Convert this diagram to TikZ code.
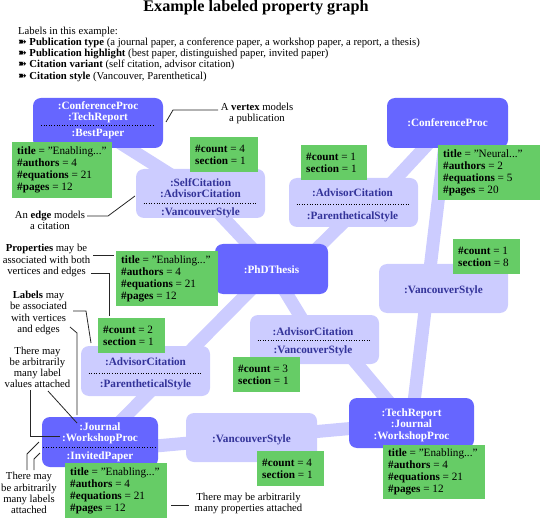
\documentclass[tikz,border=0pt]{standalone}
\usepackage{fontspec}
\setmainfont{Liberation Serif}
\newfontfamily\symfont{DejaVu Sans}
\usetikzlibrary{calc}
\definecolor{vcol}{HTML}{6666FF}
\definecolor{lav}{HTML}{CCCCFF}
\definecolor{ecol}{HTML}{333399}
\definecolor{pgreen}{HTML}{66CC66}
\pgfdeclarelayer{background}
\pgfsetlayers{background,main}
\newcommand\mynodefont{\fontsize{11.2}{12}\selectfont}
\newcommand\myannfont{\fontsize{10.7}{11.2}\selectfont}
\newcommand\mybul{{\symfont\fontsize{10.5}{10}\selectfont ➽}\hspace{2.5pt}}
\begin{document}
\begin{tikzpicture}[x=1pt,y=-1pt,
  conn/.style={line width=13pt,draw=lav,line join=round},
  vtx/.style={rectangle,rounded corners=8pt,fill=vcol,inner sep=0pt},
  edg/.style={rectangle,rounded corners=8pt,fill=lav,inner sep=0pt},
  pbox/.style={rectangle,fill=pgreen,inner sep=0pt,anchor=north west},
  ptext/.style={inner sep=0pt,align=left,anchor=west,font=\mynodefont},
  vt/.style={inner sep=0pt,anchor=base,text=white,font=\mynodefont\bfseries},
  et/.style={inner sep=0pt,anchor=base,text=ecol,font=\mynodefont\bfseries},
  sepline/.style={draw=black,dotted,line width=0.6pt},
  ann/.style={inner sep=0pt,align=center,font=\myannfont},
  leg/.style={inner sep=0pt,anchor=base west,font=\myannfont},
  lead/.style={draw=black!85,line width=0.8pt}]
\useasboundingbox (0,0) rectangle (540,518);

% title and legend
\node[inner sep=0pt,anchor=base,font=\fontsize{16.2}{18}\selectfont\bfseries] (title) at (256,12) {Example labeled property graph};
\node[leg] (leg0) at (18,35) {Labels in this example:};
\node[leg] (leg1) at (18,46) {\mybul\textbf{Publication type} (a journal paper, a conference paper, a workshop paper, a report, a thesis)};
\node[leg] (leg2) at (18,57) {\mybul\textbf{Publication highlight} (best paper, distinguished paper, invited paper)};
\node[leg] (leg3) at (18,68) {\mybul\textbf{Citation variant} (self citation, advisor citation)};
\node[leg] (leg4) at (18,79.5) {\mybul\textbf{Citation style} (Vancouver, Parenthetical)};

% vertices
\node[vtx,minimum width=130pt,minimum height=50pt] (v1) at (98,123) {};
\node[vtx,minimum width=121pt,minimum height=50pt] (v2) at (447.5,123) {};
\node[vtx,minimum width=113pt,minimum height=50pt] (v3) at (271.5,269) {};
\node[vtx,minimum width=116pt,minimum height=50pt] (v4) at (100,442) {};
\node[vtx,minimum width=125pt,minimum height=50pt] (v5) at (411.5,423) {};
% edges
\node[edg,minimum width=129pt,minimum height=49pt] (e1) at (200.5,193.5) {};
\node[edg,minimum width=129pt,minimum height=49pt] (e2) at (353.5,202.5) {};
\node[edg,minimum width=129pt,minimum height=49pt] (e3) at (314.5,339.5) {};
\node[edg,minimum width=129pt,minimum height=49pt] (e4) at (443.5,288.5) {};
\node[edg,minimum width=129pt,minimum height=50pt] (e5) at (145.5,371) {};
\node[edg,minimum width=131pt,minimum height=49pt] (e6) at (251.5,437.5) {};

% connectors
\begin{pgfonlayer}{background}
\draw[conn] ($(v1.center)+(0,6)$) -- (e1.center) -- (v3.center);
\draw[conn] (v2.center) -- ($(e2.center)+(20,0)$);
\draw[conn] ($(e2.center)+(10,0)$) -- ($(v3.center)+(25,0)$);
\draw[conn] (v3.center) -- (e3.center);
\draw[conn] ($(e3.center)+(22,0)$) -- ($(v5.center)+(-5,0)$);
\draw[conn] (v3.center) -- (v4.center);
\draw[conn] ($(v4.center)+(0,9)$) -- (v5.center);
\draw[conn] (v2.center) -- (v5.center);
\end{pgfonlayer}

% property boxes
\node[pbox,minimum width=100pt,minimum height=56pt] (p1) at (12,142) {};
\node[ptext] (p1t) at ($(p1.west)+(5,0)$) {\textbf{title} = "Enabling..."\\\textbf{\#authors} = 4\\\textbf{\#equations} = 21\\\textbf{\#pages} = 12};
\node[pbox,minimum width=68pt,minimum height=35pt] (p2) at (190,137) {};
\node[ptext] (p2t) at ($(p2.west)+(5,0)$) {\textbf{\#count} = 4\\\textbf{section} = 1};
\node[pbox,minimum width=66pt,minimum height=35pt] (p3) at (301,145) {};
\node[ptext] (p3t) at ($(p3.west)+(5,0)$) {\textbf{\#count} = 1\\\textbf{section} = 1};
\node[pbox,minimum width=103pt,minimum height=55pt] (p4) at (438,145) {};
\node[ptext] (p4t) at ($(p4.west)+(5,0)$) {\textbf{title} = "Neural..."\\\textbf{\#authors} = 2\\\textbf{\#equations} = 5\\\textbf{\#pages} = 20};
\node[pbox,minimum width=102pt,minimum height=55pt] (p5) at (116,251) {};
\node[ptext] (p5t) at ($(p5.west)+(5,0)$) {\textbf{title} = "Enabling..."\\\textbf{\#authors} = 4\\\textbf{\#equations} = 21\\\textbf{\#pages} = 12};
\node[pbox,minimum width=67pt,minimum height=35pt] (p6) at (233,357) {};
\node[ptext] (p6t) at ($(p6.west)+(5,0)$) {\textbf{\#count} = 3\\\textbf{section} = 1};
\node[pbox,minimum width=67pt,minimum height=35pt] (p7) at (453,239) {};
\node[ptext] (p7t) at ($(p7.west)+(5,0)$) {\textbf{\#count} = 1\\\textbf{section} = 8};
\node[pbox,minimum width=67pt,minimum height=35pt] (p8) at (98,318) {};
\node[ptext] (p8t) at ($(p8.west)+(5,0)$) {\textbf{\#count} = 2\\\textbf{section} = 1};
\node[pbox,minimum width=102pt,minimum height=56pt] (p9) at (65,463) {};
\node[ptext] (p9t) at ($(p9.west)+(5,0)$) {\textbf{title} = "Enabling..."\\\textbf{\#authors} = 4\\\textbf{\#equations} = 21\\\textbf{\#pages} = 12};
\node[pbox,minimum width=67pt,minimum height=35pt] (p10) at (257,451) {};
\node[ptext] (p10t) at ($(p10.west)+(5,0)$) {\textbf{\#count} = 4\\\textbf{section} = 1};
\node[pbox,minimum width=102pt,minimum height=54pt] (p11) at (383,445) {};
\node[ptext] (p11t) at ($(p11.west)+(5,0)$) {\textbf{title} = "Enabling..."\\\textbf{\#authors} = 4\\\textbf{\#equations} = 21\\\textbf{\#pages} = 12};

% vertex labels
\node[vt] (v1a) at (98,110) {:ConferenceProc};
\node[vt] (v1b) at (98,121) {:TechReport};
\node[vt] (v1c) at (98,137) {:BestPaper};
\draw[sepline] ($(v1.center)+(-57,2)$) -- ($(v1.center)+(57,2)$);
\node[vt] (v2a) at (447.5,127) {:ConferenceProc};
\node[vt] (v3a) at (271.5,273) {:PhDThesis};
\node[vt] (v4a) at (100,430) {:Journal};
\node[vt] (v4b) at (100,441) {:WorkshopProc};
\node[vt] (v4c) at (100,459) {:InvitedPaper};
\draw[sepline] ($(v4.center)+(-57,5)$) -- ($(v4.center)+(57,5)$);
\node[vt] (v5a) at (411.5,416) {:TechReport};
\node[vt] (v5b) at (411.5,427) {:Journal};
\node[vt] (v5c) at (411.5,439) {:WorkshopProc};

% edge labels
\node[et] (e1a) at (200.5,187) {:SelfCitation};
\node[et] (e1b) at (200.5,198) {:AdvisorCitation};
\node[et] (e1c) at (200.5,216) {:VancouverStyle};
\draw[sepline] ($(e1.center)+(-57,10)$) -- ($(e1.center)+(57,10)$);
\node[et] (e2a) at (352.5,197) {:AdvisorCitation};
\node[et] (e2b) at (352.5,220) {:ParentheticalStyle};
\draw[sepline] ($(e2.center)+(-57,1.5)$) -- ($(e2.center)+(57,1.5)$);
\node[et] (e3a) at (313,335) {:AdvisorCitation};
\node[et] (e3b) at (313,353) {:VancouverStyle};
\draw[sepline] ($(e3.center)+(-57,1)$) -- ($(e3.center)+(57,1)$);
\node[et] (e4a) at (443.5,293) {:VancouverStyle};
\node[et] (e5a) at (145.5,365) {:AdvisorCitation};
\node[et] (e5b) at (145.5,387) {:ParentheticalStyle};
\draw[sepline] ($(e5.center)+(-57,2)$) -- ($(e5.center)+(57,2)$);
\node[et] (e6a) at (251.5,442) {:VancouverStyle};

% annotations
\node[ann] (annV) at (257,113.5) {A \textbf{vertex} models\\a publication};
\node[ann] (annE) at (50,220.5) {An \textbf{edge} models\\a citation};
\node[ann] (annP) at (46.5,260.5) {\textbf{Properties} may be\\associated with both\\vertices and edges};
\node[ann] (annL) at (38.5,313) {\textbf{Labels} may\\be associated\\with vertices\\and edges};
\node[ann] (annLV) at (37.5,367.5) {There may\\be arbitrarily\\many label\\values attached};
\node[ann] (annML) at (29,493) {There may\\be arbitrarily\\many labels\\attached};
\node[ann] (annMP) at (248.5,503.5) {There may be arbitrarily\\many properties attached};

% leader lines
\coordinate (l1s) at (218,110); \coordinate (l1e) at (166,122);
\coordinate (l2s) at (87,216);  \coordinate (l2e) at (135,196);
\coordinate (l3s) at (93,255);  \coordinate (l3e) at (114,255);
\coordinate (l4s) at (91,273);  \coordinate (l4e) at (109,316);
\coordinate (l5s) at (73,311);  \coordinate (l5e) at (91,343);
\coordinate (l6s) at (70,327);  \coordinate (l6e) at (77,415);
\coordinate (l7s) at (30,390);  \coordinate (l7e) at (60,436);
\coordinate (l8s) at (48,391);  \coordinate (l8e) at (77,423);
\coordinate (l9s) at (27,470);  \coordinate (l9e) at (39,442);
\coordinate (l10s) at (34,470); \coordinate (l10e) at (40,453);
\coordinate (l11s) at (171,505); \coordinate (l11e) at (189,505);
\draw[lead] (l1s) -- (173,110) -- (l1e);
\draw[lead] (l2s) -- (108,216) -- (l2e);
\draw[lead] (l3s) -- (l3e);
\draw[lead] (l4s) -- (109,273) -- (l4e);
\draw[lead] (l5s) -- (86,311) -- (l5e);
\draw[lead] (l6s) -- (77,333) -- (l6e);
\draw[lead] (l7s) -- (30,436) -- (l7e);
\draw[lead] (l8s) -- (l8e);
\draw[lead] (l9s) -- (27,454) -- (l9e);
\draw[lead] (l10s) -- (34,459) -- (l10e);
\draw[lead] (l11s) -- (l11e);
\end{tikzpicture}
\end{document}
